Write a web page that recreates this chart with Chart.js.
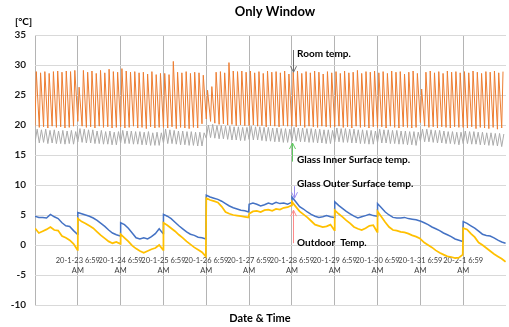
<!DOCTYPE html>
<html lang="en">
<head>
<meta charset="UTF-8">
<title>Only Window</title>
<script src="https://cdn.jsdelivr.net/npm/chart.js"></script>
<style>
  html, body { margin: 0; padding: 0; background: #fff; }
  canvas { display: block; }
</style>
</head>
<body>
<canvas id="myChart" width="509" height="327"></canvas>
<script>
// x is measured in days from 20-1-22 6:59 AM
const dayLabels = ['20-1-23 6:59', '20-1-24 6:59', '20-1-25 6:59', '20-1-26 6:59', '20-1-27 6:59',
                   '20-1-28 6:59', '20-1-29 6:59', '20-1-30 6:59', '20-1-31 6:59', '20-2-1 6:59'];
const yTicks = [35, 30, 25, 20, 15, 10, 5, 0, -5, -10];

// Room temp: one heating cycle ~ every 2.4 h (10 per day)
const cyclesPerDay = 10;
const roomPeaks = [
  28.9, 28.7, 28.9, 28.6, 28.9, 29.0, 28.8, 29.0, 28.9, 29.1,
  26.3, 29.1, 28.8, 29.0, 28.6, 29.1, 28.7, 29.3, 28.9, 28.8,
  29.4, 29.0, 28.8, 28.9, 28.7, 28.8, 28.5, 28.9, 28.4, 28.6,
  28.6, 28.4, 30.6, 28.8, 28.7, 28.9, 28.6, 28.8, 28.7, 28.3,
  25.8, 26.4, 28.8, 28.9, 28.7, 30.4, 29.0, 28.9, 29.0, 28.8,
  29.0, 28.7, 28.9, 28.6, 29.0, 28.8, 28.9, 28.7, 29.0, 28.5,
  28.8, 29.0, 28.6, 28.9, 28.7, 29.0, 28.8, 28.5, 28.9, 28.7,
  28.9, 28.6, 29.0, 28.7, 28.8, 29.1, 28.6, 28.9, 28.8, 29.0,
  28.7, 28.9, 28.6, 29.0, 28.8, 28.9, 28.5, 28.8, 29.0, 28.6,
  26.0, 28.8, 29.0, 28.7, 28.9, 28.6, 29.0, 28.8, 28.9, 28.7,
  28.9, 28.7, 29.0, 28.8, 28.6, 28.9, 28.8, 29.0, 28.7, 28.9
];
const roomLows = [
  19.8, 19.6, 19.7, 19.5, 19.8, 19.6, 19.7, 19.5, 19.6, 19.8,
  20.6, 19.8, 19.6, 19.7, 19.5, 19.8, 19.6, 19.7, 19.5, 19.6,
  19.7, 19.5, 19.6, 19.8, 19.5, 19.6, 19.4, 19.7, 19.5, 19.6,
  19.6, 19.5, 19.7, 19.4, 19.6, 19.5, 19.4, 19.6, 19.5, 20.2,
  21.0, 20.6, 20.3, 20.1, 20.2, 20.0, 20.1, 19.9, 20.0, 19.9,
  19.9, 20.0, 19.8, 19.9, 19.7, 19.9, 19.8, 19.7, 19.9, 19.8,
  19.8, 19.7, 19.9, 19.6, 19.8, 19.7, 19.6, 19.8, 19.7, 19.6,
  19.7, 19.8, 19.6, 19.7, 19.5, 19.8, 19.6, 19.7, 19.5, 19.7,
  19.6, 19.7, 19.5, 19.8, 19.6, 19.5, 19.7, 19.6, 19.5, 19.6,
  20.4, 19.8, 19.6, 19.7, 19.5, 19.7, 19.6, 19.5, 19.7, 19.6,
  19.6, 19.5, 19.7, 19.4, 19.6, 19.5, 19.4, 19.6, 19.3, 19.5
];

// Glass inner surface temp, same cycles
const innerPeaks = [
  19.3, 19.2, 19.3, 19.1, 19.2, 19.0, 19.1, 19.0, 19.1, 18.9,
  19.4, 19.3, 19.2, 19.2, 19.0, 19.1, 18.9, 19.0, 18.8, 18.9,
  19.1, 19.0, 19.0, 18.9, 18.9, 18.8, 18.9, 18.7, 18.8, 18.7,
  19.3, 19.2, 19.1, 19.0, 19.0, 18.9, 18.9, 18.8, 18.8, 18.7,
  20.0, 20.1, 19.9, 19.9, 19.8, 19.8, 19.7, 19.7, 19.6, 19.6,
  19.8, 19.7, 19.7, 19.6, 19.6, 19.5, 19.5, 19.4, 19.4, 19.3,
  19.6, 19.5, 19.5, 19.4, 19.4, 19.3, 19.3, 19.2, 19.2, 19.1,
  19.5, 19.4, 19.4, 19.3, 19.3, 19.2, 19.2, 19.1, 19.1, 19.0,
  19.3, 19.2, 19.2, 19.1, 19.1, 19.0, 19.0, 18.9, 18.9, 18.8,
  19.3, 19.3, 19.2, 19.1, 19.1, 19.0, 18.9, 18.9, 18.8, 18.8,
  19.0, 18.9, 18.9, 18.8, 18.8, 18.7, 18.7, 18.6, 18.6, 18.5
];
const innerLows = [
  17.1, 17.0, 17.1, 16.9, 17.0, 16.9, 16.9, 16.8, 16.9, 16.8,
  17.2, 17.1, 17.0, 17.0, 16.9, 16.9, 16.8, 16.8, 16.7, 16.7,
  17.0, 16.9, 16.9, 16.8, 16.8, 16.7, 16.7, 16.6, 16.6, 16.6,
  17.0, 16.9, 16.9, 16.8, 16.7, 16.7, 16.6, 16.6, 16.5, 16.5,
  17.8, 17.9, 17.8, 17.7, 17.7, 17.6, 17.5, 17.5, 17.4, 17.4,
  17.6, 17.5, 17.5, 17.4, 17.3, 17.3, 17.2, 17.2, 17.1, 17.1,
  17.3, 17.3, 17.2, 17.2, 17.1, 17.1, 17.0, 17.0, 16.9, 16.9,
  17.2, 17.2, 17.1, 17.1, 17.0, 17.0, 16.9, 16.9, 16.8, 16.8,
  17.1, 17.0, 17.0, 16.9, 16.9, 16.8, 16.8, 16.7, 16.7, 16.6,
  17.3, 17.2, 17.2, 17.1, 17.0, 17.0, 16.9, 16.9, 16.8, 16.7,
  16.9, 16.9, 16.8, 16.8, 16.7, 16.7, 16.6, 16.6, 16.5, 16.4
];

// Glass outer surface and outdoor: 12 readings per day, each day restarts at 6:59 AM
const samplesPerDay = 12;
const outerTemp = [
  4.8, 4.6, 4.6, 4.5, 5.1, 4.7, 4.4, 3.7, 3.2, 3.1, 2.4, 1.8,
  5.4, 5.2, 5.0, 4.8, 4.5, 4.1, 3.6, 3.1, 2.5, 2.0, 1.7, 1.5,
  3.7, 3.4, 2.8, 2.0, 1.2, 1.0, 1.2, 1.0, 1.4, 1.9, 2.7, 1.9,
  5.1, 4.8, 4.4, 3.8, 3.2, 2.7, 2.2, 1.8, 1.6, 1.3, 1.2, 1.0,
  8.3, 8.0, 7.8, 7.6, 7.3, 6.9, 6.5, 6.2, 6.0, 5.8, 5.7, 5.5,
  6.8, 7.0, 6.8, 6.5, 6.7, 7.0, 6.8, 7.1, 6.9, 7.0, 6.8, 7.1,
  8.0, 7.2, 6.4, 6.0, 5.5, 5.1, 4.8, 4.6, 4.7, 4.9, 4.7, 4.6,
  7.2, 6.6, 6.1, 5.6, 5.2, 4.8, 4.5, 4.7, 4.9, 5.1, 4.9, 4.8,
  6.9, 6.2, 5.5, 5.0, 4.6, 4.5, 4.5, 4.6, 4.4, 4.3, 4.2, 4.0,
  4.0, 3.7, 3.4, 3.0, 2.7, 2.4, 2.0, 1.7, 1.4, 1.0, 0.8, 0.6,
  3.9, 3.6, 3.2, 2.8, 2.3, 1.8, 1.6, 1.5, 1.2, 0.8, 0.5, 0.3
];
const outdoorTemp = [
  2.8, 2.0, 2.3, 2.6, 3.0, 2.5, 2.4, 1.5, 1.2, 0.8, 0.2, -0.8,
  4.4, 3.9, 3.6, 3.2, 2.8, 2.2, 1.6, 1.1, 0.6, 0.3, 0.5, 0.2,
  1.8, 1.2, 0.6, -0.1, -0.6, -1.0, -1.3, -1.0, -0.7, -0.5, 0.0, -0.8,
  3.7, 3.3, 2.8, 2.3, 1.7, 1.2, 0.6, 0.1, -0.4, -0.8, -1.2, -1.9,
  7.8, 7.5, 7.3, 7.1, 6.4, 5.5, 5.2, 5.0, 4.9, 4.8, 4.7, 4.6,
  5.2, 5.6, 5.7, 5.5, 5.8, 5.9, 5.7, 6.0, 5.9, 6.2, 6.3, 6.6,
  7.2, 6.4, 5.6, 5.1, 4.6, 4.0, 3.4, 3.2, 3.0, 3.1, 3.4, 2.5,
  5.8, 5.2, 4.7, 4.1, 3.6, 3.0, 2.7, 2.5, 2.8, 3.2, 3.3, 2.2,
  5.6, 4.7, 3.8, 3.0, 2.5, 2.4, 2.2, 2.1, 1.9, 1.6, 1.4, 1.1,
  1.0, 0.4, 0.0, -0.4, -0.9, -1.3, -1.6, -1.9, -2.0, -2.2, -2.1, -1.6,
  2.8, 2.6, 1.9, 1.3, 0.4, 0.0, -0.5, -1.0, -1.5, -1.9, -2.3, -2.8
];

// callout texts, anchored in data units (days, degC)
const callouts = [
  { text: 'Room temp.', tx: 6.12, ty: 31.8, from: [6.02, 32.5], to: [6.02, 28.8], color: '#6e6e6e' },
  { text: 'Glass Inner Surface temp.', tx: 6.12, ty: 14.2, from: [6.0, 13.9], to: [6.0, 17.0], color: '#5fc85f' },
  { text: 'Glass Outer Surface temp.', tx: 6.12, ty: 10.2, from: [6.06, 9.8], to: [6.06, 7.8], color: '#9a8cf0' },
  { text: 'Outdoor  Temp.', tx: 6.12, ty: 0.3, from: [6.02, 0.3], to: [6.02, 5.8], color: '#ff8a8a' }
];

function cycleSeries(lows, peaks, riseAt) {
  const pts = [];
  lows.forEach((lo, i) => {
    const t = i / cyclesPerDay;
    pts.push({ x: t, y: lo });
    pts.push({ x: t + riseAt / cyclesPerDay, y: peaks[i] });
  });
  return pts;
}

function dailySeries(values) {
  return values.map((v, i) => {
    const day = Math.floor(i / samplesPerDay);
    const k = i % samplesPerDay;
    return { x: day + k / (samplesPerDay - 1) * 0.99, y: v };
  });
}

const textPlugin = {
  id: 'texts',
  afterDatasetsDraw(chart) {
    const ctx = chart.ctx;
    const xs = chart.scales.x, ys = chart.scales.y;
    ctx.save();
    callouts.forEach(c => {
      const x1 = Math.round(xs.getPixelForValue(c.from[0])) + 0.5, y1 = ys.getPixelForValue(c.from[1]);
      const x2 = Math.round(xs.getPixelForValue(c.to[0])) + 0.5, y2 = ys.getPixelForValue(c.to[1]);
      ctx.strokeStyle = c.color;
      ctx.lineWidth = 1;
      ctx.beginPath();
      ctx.moveTo(x1, y1);
      ctx.lineTo(x2, y2);
      const dir = y2 > y1 ? -1 : 1;
      ctx.moveTo(x2 - 3, y2 + dir * 6);
      ctx.lineTo(x2, y2);
      ctx.lineTo(x2 + 3, y2 + dir * 6);
      ctx.stroke();
      ctx.fillStyle = '#000';
      ctx.font = 'bold 10px Lato';
      ctx.textAlign = 'left';
      ctx.textBaseline = 'middle';
      ctx.fillText(c.text, xs.getPixelForValue(c.tx), ys.getPixelForValue(c.ty));
    });
    ctx.restore();
  },
  afterDraw(chart) {
    const ctx = chart.ctx;
    ctx.save();
    ctx.fillStyle = '#000';
    ctx.textBaseline = 'middle';
    ctx.textAlign = 'center';
    ctx.font = 'bold 13px Lato';
    ctx.fillText('Only Window', 275, 12);
    ctx.font = 'bold 11px Lato';
    ctx.fillText('Date & Time', 260, 318);
    ctx.textAlign = 'left';
    ctx.font = 'bold 10px Lato';
    ctx.fillText('[°C]', 15, 22);
    ctx.restore();
  }
};

const ctx = document.getElementById('myChart').getContext('2d');

new Chart(ctx, {
  type: 'line',
  data: {
    datasets: [
      { label: 'Outdoor Temp.', data: dailySeries(outdoorTemp), borderColor: '#FFC000', borderWidth: 1.75 },
      { label: 'Glass Inner Surface temp.', data: cycleSeries(innerLows, innerPeaks, 0.5), borderColor: '#ABABAB', borderWidth: 1 },
      { label: 'Room temp.', data: cycleSeries(roomLows, roomPeaks, 0.3), borderColor: '#ED7D31', borderWidth: 1 },
      { label: 'Glass Outer Surface temp.', data: dailySeries(outerTemp), borderColor: '#4472C4', borderWidth: 1.5 }
    ]
  },
  options: {
    responsive: false,
    animation: false,
    parsing: false,
    elements: { point: { radius: 0 }, line: { tension: 0, fill: false } },
    layout: { padding: { top: 35, right: 3, left: 0, bottom: 0 } },
    plugins: { legend: { display: false }, tooltip: { enabled: false } },
    scales: {
      x: {
        type: 'linear',
        min: 0,
        max: 11,
        afterBuildTicks: s => { s.ticks = [0].concat(dayLabels.map((_, i) => i + 1), [11]).map(v => ({ value: v })); },
        afterFit: s => { s.height = 22; },
        ticks: { display: false },
        grid: {
          drawTicks: false,
          color: c => (c.tick && c.tick.value === 11) ? 'rgba(0,0,0,0)' : '#b4b4b4'
        },
        border: { display: false }
      },
      x2: {
        type: 'linear',
        position: { y: 0 },
        min: 0,
        max: 11,
        afterBuildTicks: s => { s.ticks = dayLabels.map((_, i) => ({ value: i + 1 })); },
        ticks: {
          autoSkip: false,
          maxRotation: 0,
          minRotation: 0,
          padding: 10.5,
          color: '#404040',
          font: { family: 'Lato', size: 7.5, lineHeight: 1.35 },
          callback: (v, i) => [dayLabels[i], 'AM']
        },
        grid: { display: false, drawTicks: false },
        border: { display: false }
      },
      y: {
        min: -10,
        max: 35,
        afterBuildTicks: s => { s.ticks = yTicks.map(v => ({ value: v })); },
        afterFit: s => { s.width = 35; },
        ticks: {
          padding: 9,
          color: '#1a1a1a',
          font: { family: 'Lato', size: 10, weight: 'bold' }
        },
        grid: { drawTicks: false, color: '#d9d9d9' },
        border: { display: false }
      }
    }
  },
  plugins: [textPlugin]
});
</script>
</body>
</html>
